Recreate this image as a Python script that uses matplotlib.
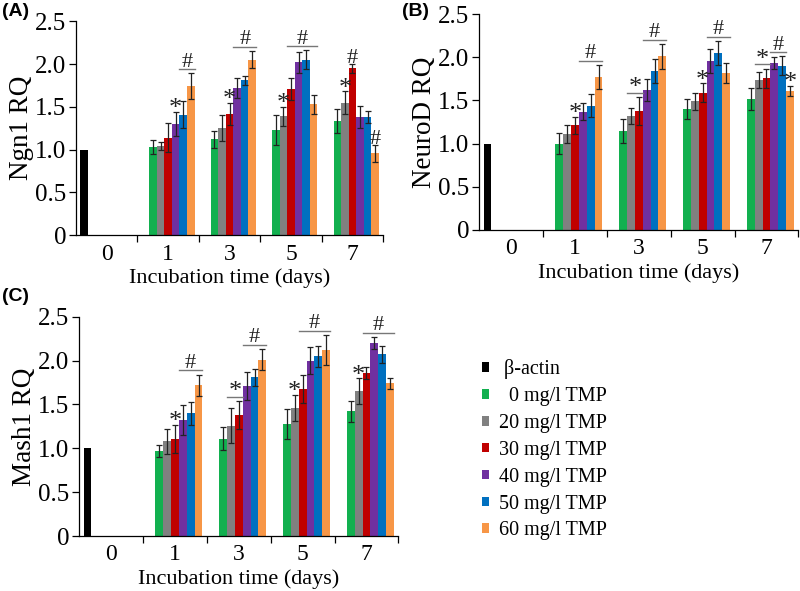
import numpy as np
import matplotlib
matplotlib.use('Agg')
import matplotlib.pyplot as plt

plt.rcParams['font.family'] = ['Liberation Serif', 'DejaVu Serif']

# categories and series
days = ['0', '1', '3', '5', '7']
series = ['β-actin', '0 mg/l TMP', '20 mg/l TMP', '30 mg/l TMP',
          '40 mg/l TMP', '50 mg/l TMP', '60 mg/l TMP']
legend_labels = [' β-actin', '  0 mg/l TMP', '20 mg/l TMP', '30 mg/l TMP',
                 '40 mg/l TMP', '50 mg/l TMP', '60 mg/l TMP']
colors = ['#000000', '#12b04f', '#808080', '#c00000',
          '#7030a0', '#0070c0', '#f79646']
actin = [1.0, 0, 0, 0, 0]

# rows: 0,20,30,40,50,60 mg/l TMP ; columns: day 1,3,5,7
ngn1_mean = [[1.03, 1.12, 1.23, 1.33],
             [1.04, 1.25, 1.39, 1.55],
             [1.14, 1.42, 1.71, 1.95],
             [1.30, 1.72, 2.02, 1.38],
             [1.41, 1.81, 2.05, 1.38],
             [1.74, 2.05, 1.53, 0.96]]
ngn1_err = [[0.08, 0.10, 0.17, 0.14],
            [0.05, 0.15, 0.11, 0.13],
            [0.17, 0.13, 0.13, 0.05],
            [0.14, 0.12, 0.12, 0.13],
            [0.16, 0.05, 0.11, 0.07],
            [0.15, 0.10, 0.11, 0.10]]

neurod_mean = [[1.00, 1.15, 1.40, 1.52],
               [1.11, 1.32, 1.49, 1.74],
               [1.21, 1.38, 1.59, 1.76],
               [1.37, 1.62, 1.96, 1.93],
               [1.44, 1.84, 2.05, 1.90],
               [1.77, 2.01, 1.82, 1.61]]
neurod_err = [[0.12, 0.14, 0.12, 0.13],
              [0.10, 0.09, 0.10, 0.09],
              [0.10, 0.16, 0.11, 0.11],
              [0.10, 0.13, 0.14, 0.07],
              [0.13, 0.14, 0.14, 0.11],
              [0.14, 0.14, 0.12, 0.06]]

mash1_mean = [[0.97, 1.11, 1.28, 1.42],
              [1.08, 1.26, 1.46, 1.65],
              [1.11, 1.38, 1.68, 1.86],
              [1.32, 1.71, 2.00, 2.20],
              [1.40, 1.81, 2.05, 2.07],
              [1.72, 2.01, 2.12, 1.74]]
mash1_err = [[0.07, 0.13, 0.17, 0.12],
             [0.14, 0.20, 0.15, 0.15],
             [0.16, 0.16, 0.16, 0.07],
             [0.17, 0.16, 0.15, 0.07],
             [0.13, 0.10, 0.12, 0.10],
             [0.12, 0.12, 0.17, 0.06]]

# significance marks: (symbol, day index, first series, last series, with line)
ngn1_marks = [('*', 1, 4, 4, False), ('#', 1, 5, 6, True),
              ('*', 2, 3, 3, False), ('#', 2, 4, 6, True),
              ('*', 3, 2, 2, False), ('#', 3, 3, 6, True),
              ('*', 4, 2, 2, False), ('#', 4, 3, 3, False),
              ('#', 4, 6, 6, False)]
neurod_marks = [('*', 1, 3, 3, False), ('#', 1, 4, 6, True),
                ('*', 2, 2, 3, True), ('#', 2, 4, 6, True),
                ('*', 3, 3, 3, False), ('#', 3, 4, 6, True),
                ('*', 4, 2, 3, True), ('#', 4, 4, 5, True),
                ('*', 4, 6, 6, False)]
mash1_marks = [('*', 1, 3, 3, False), ('#', 1, 4, 6, True),
               ('*', 2, 2, 3, True), ('#', 2, 4, 6, True),
               ('*', 3, 2, 2, False), ('#', 3, 3, 6, True),
               ('*', 4, 2, 2, False), ('#', 4, 3, 6, True)]

w = 0.123


def panel(ax, mean, err, marks, ylabel):
    mean = np.array(mean)
    err = np.array(err)
    x = np.arange(len(days))
    bars = []
    for j in range(len(series)):
        if j == 0:
            vals = np.array(actin)
        else:
            vals = np.concatenate([[0], mean[j - 1]])
        xs = x + (j - 3) * w
        b = ax.bar(xs, vals, w, color=colors[j], linewidth=0, label=legend_labels[j])
        bars.append(b)
        if j > 0:
            ax.errorbar(xs[1:], vals[1:], yerr=err[j - 1], fmt='none', ecolor='#222222',
                        elinewidth=0.9, capsize=2.2, capthick=0.9)
    for sym, d, s0, s1, line in marks:
        tops = [mean[s - 1, d - 1] + err[s - 1, d - 1] for s in range(s0, s1 + 1)]
        x0 = d + (s0 - 3) * w - w / 2
        x1 = d + (s1 - 3) * w + w / 2
        xc = (x0 + x1) / 2
        if line:
            ly = max(tops) + 0.05
            ax.plot([x0, x1], [ly, ly], color='#777777', lw=1.0)
            ty = ly + 0.02
        else:
            ty = max(tops)
        if sym == '*':
            ax.text(xc, ty - 0.04, sym, ha='center', va='baseline', fontsize=19, color='#222222')
        else:
            ax.text(xc, ty + 0.01, sym, ha='center', va='baseline', fontsize=16, color='#222222')
    ax.set_xlim(-0.5, 4.5)
    ax.set_ylim(0, 2.5)
    ax.spines['top'].set_visible(False)
    ax.spines['right'].set_visible(False)
    ax.set_yticks([0, 0.5, 1.0, 1.5, 2.0, 2.5])
    ax.set_yticklabels(['0', '0.5', '1.0', '1.5', '2.0', '2.5'])
    ax.set_xticks(x + 0.5)
    ax.set_xticklabels([])
    ax.set_xticks(x, minor=True)
    ax.set_xticklabels(days, minor=True)
    ax.tick_params(axis='x', which='major', direction='out', length=5, width=0.9)
    ax.tick_params(axis='x', which='minor', length=0, pad=6, labelsize=17)
    ax.tick_params(axis='y', direction='out', length=5, width=0.9, labelsize=18, pad=2)
    for s in ['left', 'bottom']:
        ax.spines[s].set_linewidth(0.9)
    ax.set_xlabel('Incubation time (days)', fontsize=16, labelpad=3)
    ax.set_ylabel(ylabel, fontsize=19.5, labelpad=1)
    return bars


fig = plt.figure(figsize=(8, 5.91), dpi=100)
axA = fig.add_axes([0.095, 0.602, 0.384, 0.362])
axB = fig.add_axes([0.599, 0.611, 0.399, 0.365])
axC = fig.add_axes([0.099, 0.093, 0.399, 0.371])

panel(axA, ngn1_mean, ngn1_err, ngn1_marks, 'Ngn1 RQ')
panel(axB, neurod_mean, neurod_err, neurod_marks, 'NeuroD RQ')
barsC = panel(axC, mash1_mean, mash1_err, mash1_marks, 'Mash1 RQ')

fig.text(0.002, 0.995, '(A)', family='Liberation Sans', fontweight='bold', fontsize=14, va='top')
fig.text(0.502, 0.995, '(B)', family='Liberation Sans', fontweight='bold', fontsize=14, va='top')
fig.text(0.002, 0.512, '(C)', family='Liberation Sans', fontweight='bold', fontsize=14, va='top')

fig.legend(handles=barsC, labels=legend_labels, loc='upper left',
           bbox_to_anchor=(0.602, 0.392), frameon=False, fontsize=14.5,
           handlelength=0.35, handleheight=0.35, handletextpad=0.5,
           labelspacing=0.39, borderpad=0, borderaxespad=0)

fig.savefig('out.png', dpi=100)
